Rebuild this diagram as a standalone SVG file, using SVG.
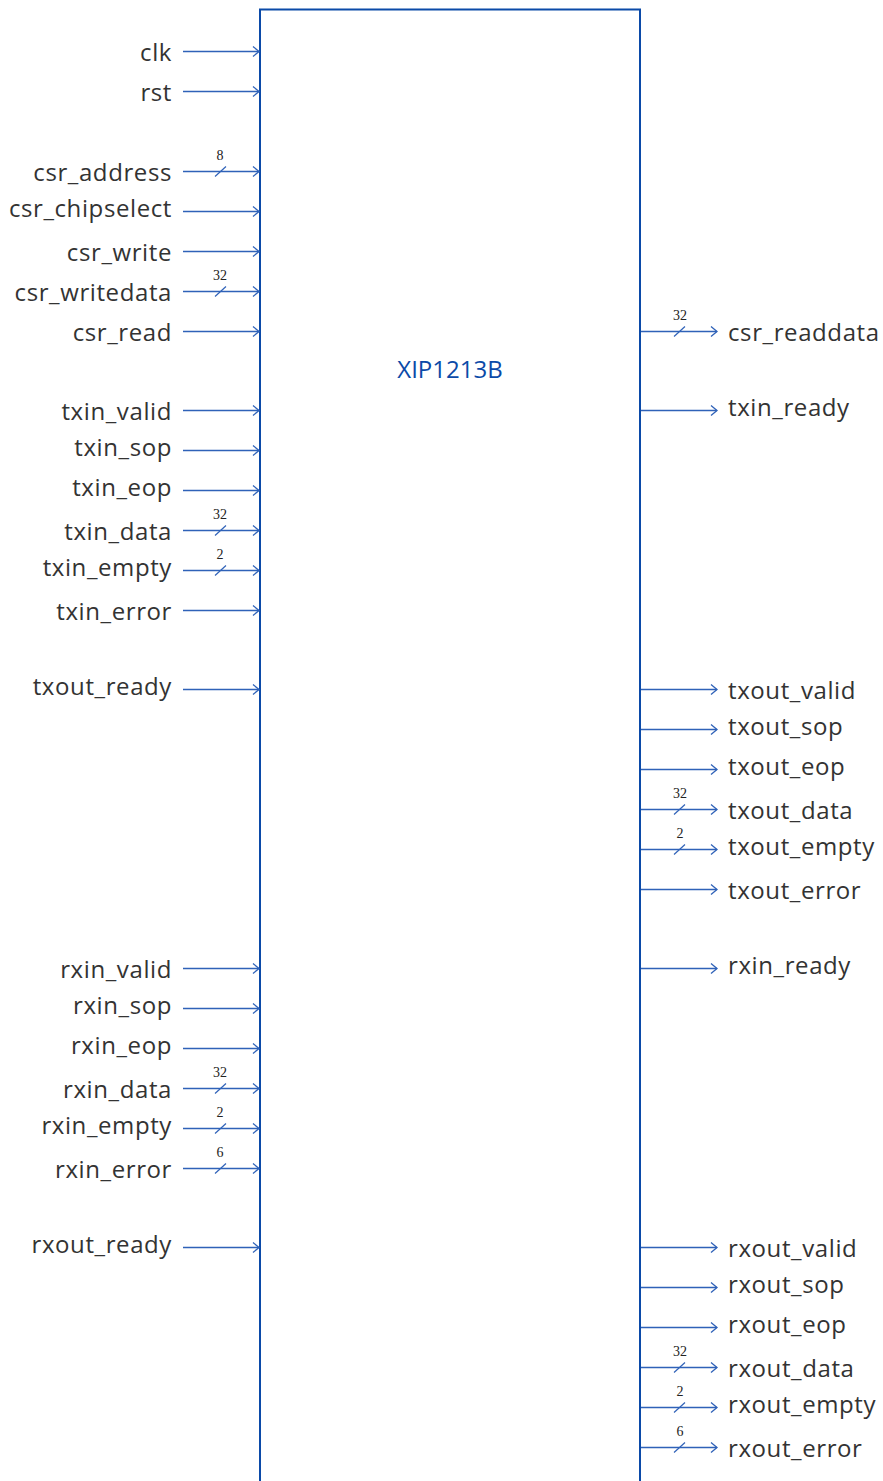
<svg xmlns="http://www.w3.org/2000/svg" width="883" height="1481" viewBox="0 0 883 1481">
<style>
.lbl{font-family:"Open Sans","Liberation Sans",sans-serif;font-size:24px;letter-spacing:0.6px;fill:#333333}
.l{text-anchor:end}
.w{font-family:"Liberation Serif","DejaVu Serif",serif;font-size:14px;fill:#222222;text-anchor:middle}
.c{stroke:#2f62b8;stroke-width:1.3;fill:none}
.s{stroke:#2f62b8;stroke-width:1.2}
.box{fill:#ffffff;stroke:#0b4aa8;stroke-width:2}
.title{font-family:"Open Sans","Liberation Sans",sans-serif;font-size:24px;fill:#0b4aa8;text-anchor:middle}
</style>
<defs>
<marker id="ah" markerUnits="userSpaceOnUse" markerWidth="12" markerHeight="12" refX="7" refY="6" orient="auto" viewBox="0 0 12 12">
<path d="M1,1 L7,6 L1,11" fill="none" stroke="#2f62b8" stroke-width="1.3"/>
</marker>
</defs>
<g id="block">
<rect class="box" x="260" y="9.5" width="380" height="1500"/>
<text class="title" x="450" y="378">XIP1213B</text>
</g>
<g id="connectors">
<line class="c" x1="183" y1="51.5" x2="259" y2="51.5" marker-end="url(#ah)"/>
<line class="c" x1="183" y1="91.5" x2="259" y2="91.5" marker-end="url(#ah)"/>
<line class="c" x1="183" y1="171.5" x2="259" y2="171.5" marker-end="url(#ah)"/>
<line class="c" x1="183" y1="211.5" x2="259" y2="211.5" marker-end="url(#ah)"/>
<line class="c" x1="183" y1="251.5" x2="259" y2="251.5" marker-end="url(#ah)"/>
<line class="c" x1="183" y1="291.5" x2="259" y2="291.5" marker-end="url(#ah)"/>
<line class="c" x1="183" y1="331.5" x2="259" y2="331.5" marker-end="url(#ah)"/>
<line class="c" x1="183" y1="410.5" x2="259" y2="410.5" marker-end="url(#ah)"/>
<line class="c" x1="183" y1="450.5" x2="259" y2="450.5" marker-end="url(#ah)"/>
<line class="c" x1="183" y1="490.5" x2="259" y2="490.5" marker-end="url(#ah)"/>
<line class="c" x1="183" y1="530.5" x2="259" y2="530.5" marker-end="url(#ah)"/>
<line class="c" x1="183" y1="570.5" x2="259" y2="570.5" marker-end="url(#ah)"/>
<line class="c" x1="183" y1="610.5" x2="259" y2="610.5" marker-end="url(#ah)"/>
<line class="c" x1="183" y1="689.5" x2="259" y2="689.5" marker-end="url(#ah)"/>
<line class="c" x1="183" y1="968.5" x2="259" y2="968.5" marker-end="url(#ah)"/>
<line class="c" x1="183" y1="1008.5" x2="259" y2="1008.5" marker-end="url(#ah)"/>
<line class="c" x1="183" y1="1048.5" x2="259" y2="1048.5" marker-end="url(#ah)"/>
<line class="c" x1="183" y1="1088.5" x2="259" y2="1088.5" marker-end="url(#ah)"/>
<line class="c" x1="183" y1="1128.5" x2="259" y2="1128.5" marker-end="url(#ah)"/>
<line class="c" x1="183" y1="1168.5" x2="259" y2="1168.5" marker-end="url(#ah)"/>
<line class="c" x1="183" y1="1247.5" x2="259" y2="1247.5" marker-end="url(#ah)"/>
<line class="c" x1="641" y1="331.5" x2="717" y2="331.5" marker-end="url(#ah)"/>
<line class="c" x1="641" y1="410.5" x2="717" y2="410.5" marker-end="url(#ah)"/>
<line class="c" x1="641" y1="689.5" x2="717" y2="689.5" marker-end="url(#ah)"/>
<line class="c" x1="641" y1="729.5" x2="717" y2="729.5" marker-end="url(#ah)"/>
<line class="c" x1="641" y1="769.5" x2="717" y2="769.5" marker-end="url(#ah)"/>
<line class="c" x1="641" y1="809.5" x2="717" y2="809.5" marker-end="url(#ah)"/>
<line class="c" x1="641" y1="849.5" x2="717" y2="849.5" marker-end="url(#ah)"/>
<line class="c" x1="641" y1="889.5" x2="717" y2="889.5" marker-end="url(#ah)"/>
<line class="c" x1="641" y1="968.5" x2="717" y2="968.5" marker-end="url(#ah)"/>
<line class="c" x1="641" y1="1247.5" x2="717" y2="1247.5" marker-end="url(#ah)"/>
<line class="c" x1="641" y1="1287.5" x2="717" y2="1287.5" marker-end="url(#ah)"/>
<line class="c" x1="641" y1="1327.5" x2="717" y2="1327.5" marker-end="url(#ah)"/>
<line class="c" x1="641" y1="1367.5" x2="717" y2="1367.5" marker-end="url(#ah)"/>
<line class="c" x1="641" y1="1407.5" x2="717" y2="1407.5" marker-end="url(#ah)"/>
<line class="c" x1="641" y1="1447.5" x2="717" y2="1447.5" marker-end="url(#ah)"/>
</g>
<g id="buswidths">
<line class="s" x1="215" y1="176.5" x2="226" y2="166.5"/><text class="w" x="220" y="160">8</text>
<line class="s" x1="215" y1="296.5" x2="226" y2="286.5"/><text class="w" x="220" y="280">32</text>
<line class="s" x1="215" y1="535.5" x2="226" y2="525.5"/><text class="w" x="220" y="519">32</text>
<line class="s" x1="215" y1="575.5" x2="226" y2="565.5"/><text class="w" x="220" y="559">2</text>
<line class="s" x1="215" y1="1093.5" x2="226" y2="1083.5"/><text class="w" x="220" y="1077">32</text>
<line class="s" x1="215" y1="1133.5" x2="226" y2="1123.5"/><text class="w" x="220" y="1117">2</text>
<line class="s" x1="215" y1="1173.5" x2="226" y2="1163.5"/><text class="w" x="220" y="1157">6</text>
<line class="s" x1="674" y1="336.5" x2="685" y2="326.5"/><text class="w" x="680" y="320">32</text>
<line class="s" x1="674" y1="814.5" x2="685" y2="804.5"/><text class="w" x="680" y="798">32</text>
<line class="s" x1="674" y1="854.5" x2="685" y2="844.5"/><text class="w" x="680" y="838">2</text>
<line class="s" x1="674" y1="1372.5" x2="685" y2="1362.5"/><text class="w" x="680" y="1356">32</text>
<line class="s" x1="674" y1="1412.5" x2="685" y2="1402.5"/><text class="w" x="680" y="1396">2</text>
<line class="s" x1="674" y1="1452.5" x2="685" y2="1442.5"/><text class="w" x="680" y="1436">6</text>
</g>
<g id="inputs">
<text class="lbl l" x="172" y="61">clk</text>
<text class="lbl l" x="172" y="101">rst</text>
<text class="lbl l" x="172" y="181">csr_address</text>
<text class="lbl l" x="172" y="217">csr_chipselect</text>
<text class="lbl l" x="172" y="261">csr_write</text>
<text class="lbl l" x="172" y="301">csr_writedata</text>
<text class="lbl l" x="172" y="341">csr_read</text>
<text class="lbl l" x="172" y="420">txin_valid</text>
<text class="lbl l" x="172" y="456">txin_sop</text>
<text class="lbl l" x="172" y="496">txin_eop</text>
<text class="lbl l" x="172" y="540">txin_data</text>
<text class="lbl l" x="172" y="576">txin_empty</text>
<text class="lbl l" x="172" y="620">txin_error</text>
<text class="lbl l" x="172" y="695">txout_ready</text>
<text class="lbl l" x="172" y="978">rxin_valid</text>
<text class="lbl l" x="172" y="1014">rxin_sop</text>
<text class="lbl l" x="172" y="1054">rxin_eop</text>
<text class="lbl l" x="172" y="1098">rxin_data</text>
<text class="lbl l" x="172" y="1134">rxin_empty</text>
<text class="lbl l" x="172" y="1178">rxin_error</text>
<text class="lbl l" x="172" y="1253">rxout_ready</text>
</g>
<g id="outputs">
<text class="lbl" x="728" y="341">csr_readdata</text>
<text class="lbl" x="728" y="416">txin_ready</text>
<text class="lbl" x="728" y="699">txout_valid</text>
<text class="lbl" x="728" y="735">txout_sop</text>
<text class="lbl" x="728" y="775">txout_eop</text>
<text class="lbl" x="728" y="819">txout_data</text>
<text class="lbl" x="728" y="855">txout_empty</text>
<text class="lbl" x="728" y="899">txout_error</text>
<text class="lbl" x="728" y="974">rxin_ready</text>
<text class="lbl" x="728" y="1257">rxout_valid</text>
<text class="lbl" x="728" y="1293">rxout_sop</text>
<text class="lbl" x="728" y="1333">rxout_eop</text>
<text class="lbl" x="728" y="1377">rxout_data</text>
<text class="lbl" x="728" y="1413">rxout_empty</text>
<text class="lbl" x="728" y="1457">rxout_error</text>
</g>
</svg>
